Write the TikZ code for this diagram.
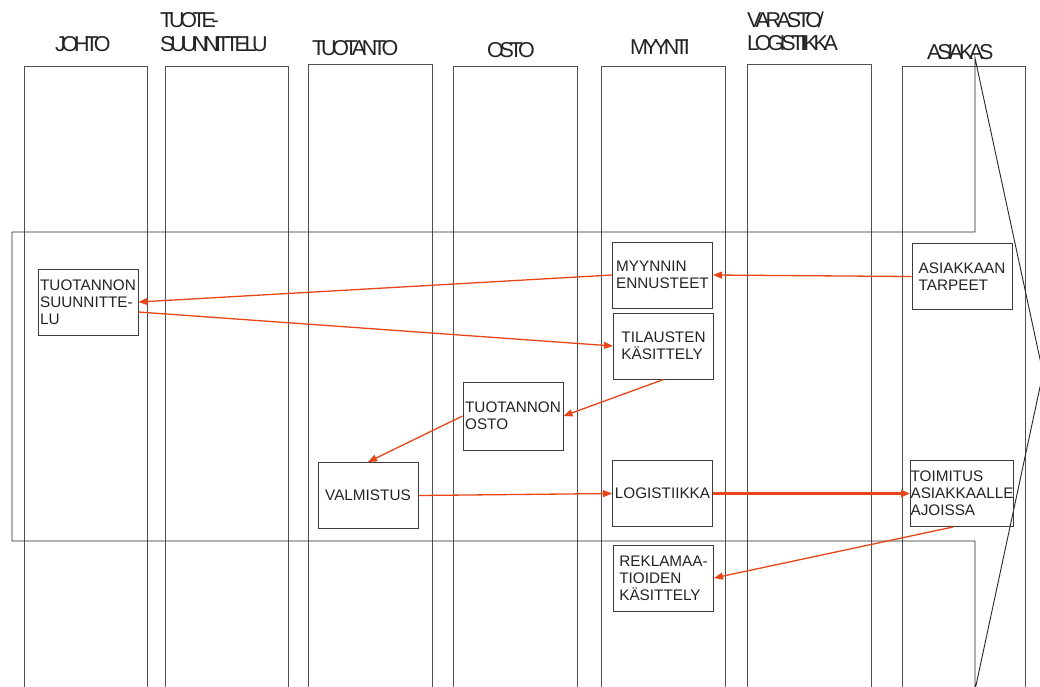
\documentclass[tikz,border=0pt]{standalone}
\usepackage{fontspec}
\setmainfont{Liberation Sans}
\newfontfamily\hdfont[LetterSpace=-20]{Liberation Sans}
\usetikzlibrary{arrows.meta,calc}
\definecolor{arrc}{RGB}{232,70,25}
\definecolor{lanec}{RGB}{80,80,80}
\definecolor{boxc}{RGB}{60,60,60}
\definecolor{txtc}{RGB}{35,35,35}
\begin{document}
\begin{tikzpicture}[x=1pt,y=-1pt,
  lanestyle/.style={draw=lanec,line width=1pt},
  frame/.style={draw=black!85,line width=0.9pt},
  hd/.style={font=\hdfont\fontsize{21.5}{24}\selectfont,text=txtc,inner sep=0pt,anchor=base west},
  box/.style={draw=boxc,line width=1pt,minimum width=100pt,minimum height=66pt,inner sep=0pt,align=left,font=\fontsize{15.3}{17}\selectfont,text=txtc},
  flow/.style={draw=arrc,line width=1.3pt,-{Triangle[length=9pt,width=7pt]}},
  flowthick/.style={flow,line width=2.2pt}]
\useasboundingbox (0,0) rectangle (1040,686);
\clip (0,0) rectangle (1040,686);
% lanes
\foreach \l/\r/\t in {24/147/66,165/288/66,308/432/64,453/577/66,601/725/66,747/871/64,902/1025/66}
  \draw[lanestyle] (\l,700) -- (\l,\t) -- (\r,\t) -- (\r,700);
% big block arrow
\draw[frame] (12,232) -- (975,232) -- (975,58) -- (1043,373) -- (975,690) -- (975,541) -- (12,541) -- cycle;
% headers
\node[hd] (hjohto) at (55,51.5) {JOHTO};
\node[hd] (htuote1) at (160,27.5) {TUOTE-};
\node[hd] (htuote2) at (160,51.5) {SUUNNITTELU};
\node[hd] (htuotanto) at (312,55.5) {TUOTANTO};
\node[hd] (hosto) at (487,57.5) {OSTO};
\node[hd] (hmyynti) at (630,54.5) {MYYNTI};
\node[hd] (hvarasto1) at (747,27.5) {VARASTO/};
\node[hd] (hvarasto2) at (747,50.5) {LOGISTIIKKA};
\node[hd] (hasiakas) at (927,59.5) {ASIAKAS};
% boxes
\node[box] (tsuun) at (88,302) {TUOTANNON\\SUUNNITTE-\\LU};
\node[box] (myyn) at (662.5,275) {MYYNNIN\\ENNUSTEET};
\node[box] (asiak) at (962,276.5) {ASIAKKAAN\\TARPEET};
\node[box] (tilaus) at (663.5,346) {TILAUSTEN\\KÄSITTELY};
\node[box,minimum height=68pt] (osto) at (513,416) {TUOTANNON\\OSTO};
\node[box,align=center] (valm) at (368,495.5) {VALMISTUS};
\node[box] (logi) at (662.5,493.5) {LOGISTIIKKA};
\node[box,minimum width=102pt] (toim) at (962,493.5) {TOIMITUS\\ASIAKKAALLE\\AJOISSA};
\node[box] (rekl) at (663.5,578) {REKLAMAA-\\TIOIDEN\\KÄSITTELY};
% flows
\draw[flow] (asiak.west) -- (myyn.east);
\draw[flow] (myyn.west) -- (tsuun.east);
\draw[flow] ($(tsuun.east)+(0,10)$) -- (tilaus.west);
\draw[flow] (tilaus.south) -- (osto.east);
\draw[flow] (osto.west) -- (valm.north);
\draw[flow] (valm.east) -- (logi.west);
\draw[flowthick] (logi.east) -- (toim.west);
\draw[flow] ($(toim.south)+(-9,0)$) -- (rekl.east);
\end{tikzpicture}
\end{document}
